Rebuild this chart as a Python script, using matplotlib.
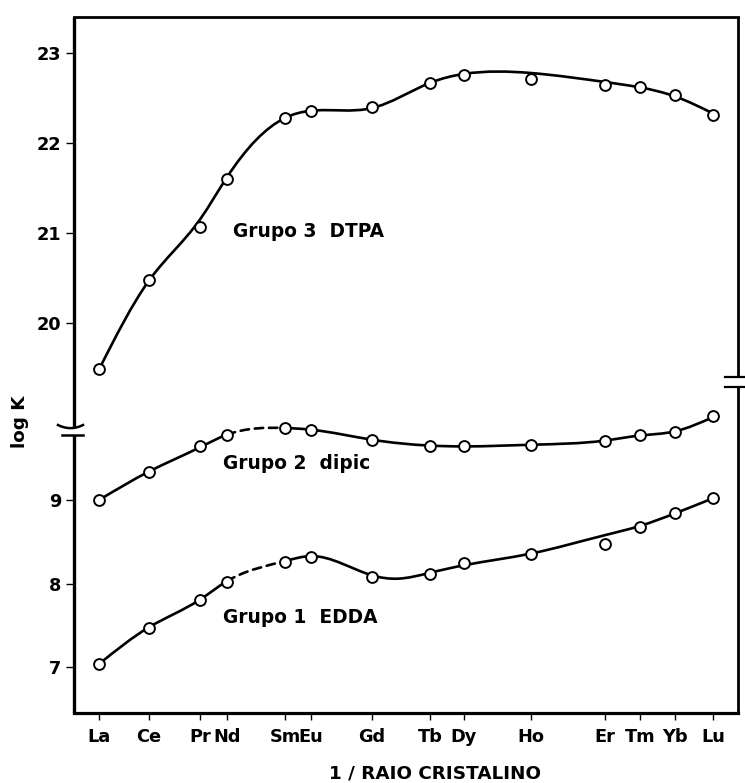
import numpy as np
import matplotlib
matplotlib.use("Agg")
import matplotlib.pyplot as plt
from matplotlib.path import Path
from matplotlib.patches import PathPatch
from matplotlib.lines import Line2D

# Lanthanide series, positioned along the 1/ionic-radius axis (relative units)
elementos = ["La", "Ce", "Pr", "Nd", "Sm", "Eu", "Gd", "Tb", "Dy", "Ho", "Er", "Tm", "Yb", "Lu"]
inv_raio = [3.77, 11.30, 18.98, 23.04, 31.78, 35.69, 44.88, 53.61, 58.73, 68.83, 79.97, 85.24, 90.51, 96.23]

# Measured stability constants (log K)
logk_edda = [7.04, 7.47, 7.80, 8.02, 8.26, 8.32, 8.08, 8.12, 8.25, 8.35, 8.48, 8.68, 8.84, 9.02]
logk_dipic = [9.00, 9.34, 9.64, 9.78, 9.86, 9.84, 9.72, 9.64, 9.64, 9.66, 9.71, 9.78, 9.81, 10.00]
logk_dtpa = [19.48, 20.47, 21.07, 21.60, 22.28, 22.36, 22.40, 22.67, 22.76, 22.71, 22.65, 22.63, 22.53, 22.31]

# Hand-fitted trend curves (knots)
curva_edda_x = [3.77, 11.30, 18.98, 23.04, 31.78, 35.69, 44.88, 48.80, 53.61, 58.73, 68.83, 79.97, 85.24, 90.51, 96.23]
curva_edda_y = [7.04, 7.48, 7.81, 8.03, 8.27, 8.33, 8.10, 8.06, 8.13, 8.22, 8.36, 8.58, 8.69, 8.84, 9.02]
curva_dipic_x = inv_raio
curva_dipic_y = [9.00, 9.34, 9.63, 9.78, 9.86, 9.84, 9.72, 9.65, 9.64, 9.66, 9.71, 9.77, 9.82, 9.99]
curva_dtpa_x = inv_raio
curva_dtpa_y = [19.48, 20.47, 21.15, 21.62, 22.28, 22.36, 22.39, 22.67, 22.77, 22.78, 22.68, 22.62, 22.52, 22.33]

rotulos = ["Grupo 3  DTPA", "Grupo 2  dipic", "Grupo 1  EDDA"]
rotulos_pos = [(23.9, 21.01), (22.4, 9.43), (22.4, 7.59)]

yticks = [7, 8, 9, 20, 21, 22, 23]

# --- broken y scale: lower band (EDDA/dipic) and upper band (DTPA) ---
LOW_REF, LOW_UNIT = 9.0, 83.7      # screen units per log K in the lower band
HIGH_REF, HIGH_UNIT = 23.0, 89.8   # screen units per log K in the upper band
LOW_TOP, HIGH_BOT = 10.05, 19.2
HIGH_REF_POS = 446.7               # vertical offset between the two bands


def _lowpos(v):
    return (v - LOW_REF) * LOW_UNIT


def _highpos(v):
    return HIGH_REF_POS + (v - HIGH_REF) * HIGH_UNIT


_vk = np.array([-60.0, LOW_TOP, HIGH_BOT, 90.0])
_pk = np.array([_lowpos(-60.0), _lowpos(LOW_TOP), _highpos(HIGH_BOT), _highpos(90.0)])


def fwd(v):
    return np.interp(v, _vk, _pk)


def inv(p):
    return np.interp(p, _pk, _vk)


def spline_segments(xs, ys):
    """Natural cubic spline through the knots, returned as Bezier segments."""
    xs = np.asarray(xs, float)
    ys = np.asarray(ys, float)
    n = len(xs)
    h = np.diff(xs)
    A = np.zeros((n, n))
    b = np.zeros(n)
    A[0, 0] = A[-1, -1] = 1.0
    for i in range(1, n - 1):
        A[i, i - 1] = h[i - 1]
        A[i, i] = 2 * (h[i - 1] + h[i])
        A[i, i + 1] = h[i]
        b[i] = 6 * ((ys[i + 1] - ys[i]) / h[i] - (ys[i] - ys[i - 1]) / h[i - 1])
    M = np.linalg.solve(A, b)
    m = np.zeros(n)
    for i in range(n - 1):
        m[i] = (ys[i + 1] - ys[i]) / h[i] - h[i] * (2 * M[i] + M[i + 1]) / 6
    m[-1] = (ys[-1] - ys[-2]) / h[-1] + h[-1] * (M[-2] + 2 * M[-1]) / 6
    segs = []
    for i in range(n - 1):
        dx = h[i]
        segs.append(((xs[i], ys[i]),
                     (xs[i] + dx / 3, ys[i] + m[i] * dx / 3),
                     (xs[i + 1] - dx / 3, ys[i + 1] - m[i + 1] * dx / 3),
                     (xs[i + 1], ys[i + 1])))
    return segs


def draw_curve(ax, xs, ys, dashed=()):
    segs = spline_segments(xs, ys)
    groups = []
    for i, s in enumerate(segs):
        style = "dash" if i in dashed else "solid"
        if groups and groups[-1][0] == style:
            groups[-1][1].append(s)
        else:
            groups.append((style, [s]))
    for style, ss in groups:
        verts = [ss[0][0]]
        codes = [Path.MOVETO]
        for s in ss:
            verts += [s[1], s[2], s[3]]
            codes += [Path.CURVE4] * 3
        ls = (0, (3.2, 2.2)) if style == "dash" else "-"
        ax.add_patch(PathPatch(Path(verts, codes), fill=False, lw=1.9,
                               ec="black", ls=ls, capstyle="round", zorder=2))


fig = plt.figure(figsize=(7.45, 7.83), dpi=100)
ax = fig.add_axes([74 / 745, 70 / 783, 664 / 745, 696 / 783])
ax.set_yscale("function", functions=(fwd, inv))
ax.set_xlim(0, 100)
ax.set_ylim(6.455, 23.404)

draw_curve(ax, curva_edda_x, curva_edda_y, dashed=(3,))
draw_curve(ax, curva_dipic_x, curva_dipic_y, dashed=(3,))
draw_curve(ax, curva_dtpa_x, curva_dtpa_y)

for serie in (logk_edda, logk_dipic, logk_dtpa):
    ax.plot(inv_raio, serie, ls="none", marker="o", ms=7.8, mfc="white",
            mec="black", mew=1.4, zorder=3)

for txt, (tx, ty) in zip(rotulos, rotulos_pos):
    ax.text(tx, ty, txt, ha="left", va="center", fontsize=13.4,
            fontweight="bold", family="DejaVu Sans")

ax.set_xticks(inv_raio)
ax.set_xticklabels(elementos, fontsize=12.8, fontweight="bold")
ax.set_yticks(yticks)
ax.set_yticklabels([str(t) for t in yticks], fontsize=12.8, fontweight="bold")
ax.yaxis.set_minor_locator(matplotlib.ticker.NullLocator())
ax.tick_params(axis="x", direction="out", length=5, width=1.0, pad=6)
ax.tick_params(axis="y", direction="out", length=6, width=1.0, pad=3)

for side in ("left", "right"):
    ax.spines[side].set_visible(False)
ax.spines["top"].set_linewidth(2.0)
ax.spines["bottom"].set_linewidth(2.3)

# side frame lines with the break gaps
T = ax.transAxes
left_gap = (0.3989, 0.4103)
right_gap = (0.4677, 0.4821)
for x0, (g0, g1), lw in ((0.0, left_gap, 2.4), (1.0, right_gap, 2.0)):
    ax.add_line(Line2D([x0, x0], [0, g0], transform=T, color="black", lw=lw,
                       clip_on=False, solid_capstyle="butt"))
    ax.add_line(Line2D([x0, x0], [g1, 1], transform=T, color="black", lw=lw,
                       clip_on=False, solid_capstyle="butt"))

# break marks
ax_w = 664.0
arc_u = np.linspace(-16, 9, 20)
arc_y = left_gap[1] + 0.0045 * (((arc_u + 3.5) / 12.5) ** 2 - 1) + 0.0035
ax.add_line(Line2D(arc_u / ax_w, arc_y, transform=T, color="black", lw=1.8, clip_on=False))
ax.add_line(Line2D(np.array([-12, 9]) / ax_w, [left_gap[0], left_gap[0]], transform=T,
                   color="black", lw=1.8, clip_on=False))
for gy in right_gap:
    ax.add_line(Line2D(np.array([-13, 7]) / ax_w + 1.0, [gy, gy], transform=T,
                       color="black", lw=1.6, clip_on=False))

fig.text(20 / 745, 1 - 422 / 783, "log K", rotation=90, ha="center", va="center",
         fontsize=13.2, fontweight="bold")
fig.text(435 / 745, 1 - 773 / 783, "1 / RAIO CRISTALINO", ha="center", va="center",
         fontsize=13.2, fontweight="bold")

fig.savefig("out.png", dpi=100, facecolor="white")
